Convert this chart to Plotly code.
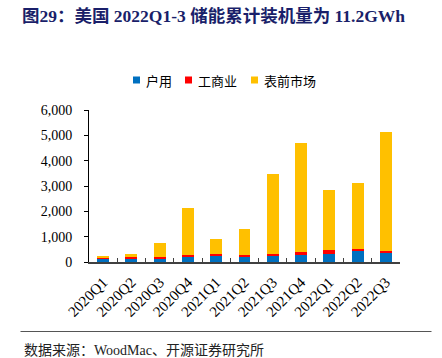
import plotly.graph_objects as go

quarters = ["2020Q1", "2020Q2", "2020Q3", "2020Q4", "2021Q1", "2021Q2",
            "2021Q3", "2021Q4", "2022Q1", "2022Q2", "2022Q3"]
residential = [120, 145, 120, 200, 275, 225, 225, 275, 330, 460, 380]
commercial = [65, 50, 60, 65, 50, 50, 80, 130, 130, 65, 65]
totals = [250, 316, 740, 2120, 897, 1290, 3480, 4690, 2845, 3110, 5140]
front_meter = [t - r - c for t, r, c in zip(totals, residential, commercial)]

series_names = ["户用", "工商业", "表前市场"]
series_colors = ["#0070C0", "#FF0000", "#FFC000"]
y_ticks = [0, 1000, 2000, 3000, 4000, 5000, 6000]

title_text = "图29：美国 2022Q1-3 储能累计装机量为 11.2GWh"
source_text = "数据来源：WoodMac、开源证券研究所"

serif = "Liberation Serif, Times New Roman, Noto Sans CJK SC, serif"

W, H = 442, 358
L, R, T, B = 89, 42, 110, 96
PW, PH = W - L - R, H - T - B


def px_x(x):
    return (x - L) / PW


def px_y(y):
    return (H - B - y) / PH


fig = go.Figure()
for name, vals, col in zip(series_names, [residential, commercial, front_meter], series_colors):
    fig.add_trace(go.Bar(x=quarters, y=vals, name=name, marker_color=col,
                         marker_line_width=0, showlegend=False))

fig.update_layout(
    width=W, height=H,
    barmode="stack", bargap=0.58,
    plot_bgcolor="white", paper_bgcolor="white",
    margin=dict(l=L, r=R, t=T, b=B, autoexpand=False),
    font=dict(family=serif, size=14, color="#000000"),
    title=dict(text="<b>" + title_text + "</b>", xref="container", yref="container",
               x=22 / W, y=1 - 16 / H, xanchor="left", yanchor="middle",
               font=dict(family=serif, size=17.5, color="#1A1F6A")),
    showlegend=False,
)
fig.update_xaxes(showline=True, linecolor="#404040", linewidth=1.5, automargin=False,
                 ticks="inside", tickson="boundaries", ticklen=4, tickcolor="#404040",
                 tickangle=-45, tickfont=dict(family=serif, size=15), showgrid=False,
                 ticklabelstandoff=4)
fig.update_yaxes(range=[0, 6000], tickvals=y_ticks, tickformat=",", automargin=False,
                 showline=True, linecolor="#000000", linewidth=1,
                 ticks="outside", ticklen=4, tickcolor="#000000",
                 tickfont=dict(family=serif, size=14), showgrid=False, zeroline=False,
                 ticklabelstandoff=9)

# custom legend (swatches + labels)
legend_swatch_x = [133, 185, 251]
legend_y = 80
for name, col, sx in zip(series_names, series_colors, legend_swatch_x):
    fig.add_shape(type="rect", xref="paper", yref="paper",
                  x0=px_x(sx), x1=px_x(sx + 7), y0=px_y(legend_y - 3.5), y1=px_y(legend_y + 3.5),
                  fillcolor=col, line=dict(width=0))
    fig.add_annotation(text=name, xref="paper", yref="paper",
                       x=px_x(sx + 11), y=px_y(legend_y), xanchor="left", yanchor="middle",
                       showarrow=False,
                       font=dict(family="Noto Sans CJK SC, serif", size=13, color="#000000"))

fig.add_shape(type="line", xref="paper", yref="paper",
              x0=px_x(20.5), x1=px_x(431.5), y0=px_y(331.5), y1=px_y(331.5),
              line=dict(color="#555555", width=1))
fig.add_annotation(text=source_text, xref="paper", yref="paper",
                   x=px_x(22), y=px_y(350), xanchor="left", yanchor="middle",
                   showarrow=False, font=dict(family=serif, size=14, color="#222222"))

fig.write_html("out.html", config={"displayModeBar": False},
               post_script="document.body.style.margin='0';")
